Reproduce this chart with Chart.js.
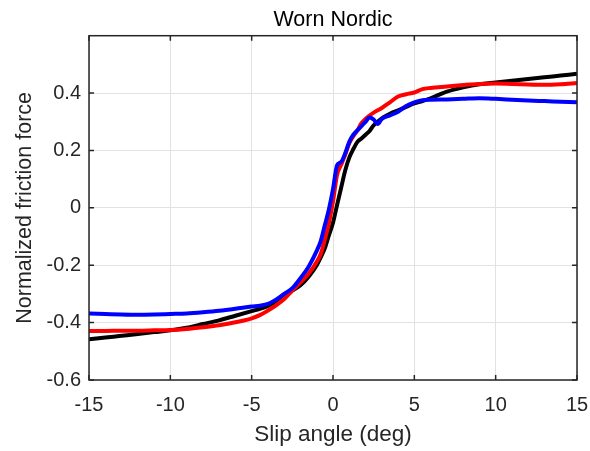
<!DOCTYPE html>
<html>
<head>
<meta charset="utf-8">
<script src="https://cdn.jsdelivr.net/npm/chart.js@4.4.1/dist/chart.umd.min.js"></script>
<style>
    html, body { margin: 0; padding: 0; background: #fff; }
    #wrap { width: 590px; height: 451px; }
</style>
</head>
<body>
<div id="wrap"><canvas id="frictionChart" width="590" height="451"></canvas></div>
<script>
// Slip angle samples (deg)
const slipAngle = [-15, -14, -13, -12, -11, -10, -9, -8, -7, -6, -5, -4.5, -4, -3.5, -3, -2.5, -2, -1.5, -1, -0.75, -0.5, -0.25,
    0, 0.25, 0.5, 0.75, 1, 1.25, 1.5, 1.75, 2, 2.25, 2.5, 2.75, 3, 3.5, 4, 4.5, 5, 5.5, 6, 7, 8, 9, 10, 11, 12, 13, 14, 15];

const blackForce = [-0.458, -0.452, -0.446, -0.440, -0.433, -0.427, -0.418, -0.405, -0.392, -0.376, -0.360, -0.352, -0.342, -0.325, -0.302, -0.288, -0.270, -0.240, -0.200, -0.172, -0.140, -0.095,
    -0.052, 0.010, 0.070, 0.130, 0.175, 0.205, 0.230, 0.242, 0.255, 0.268, 0.288, 0.300, 0.312, 0.328, 0.340, 0.352, 0.364, 0.372, 0.382, 0.405, 0.420, 0.431, 0.437, 0.443, 0.449, 0.455, 0.461, 0.467];

const redForce = [-0.429, -0.429, -0.428, -0.428, -0.427, -0.426, -0.422, -0.416, -0.409, -0.399, -0.385, -0.374, -0.358, -0.340, -0.318, -0.288, -0.260, -0.230, -0.188, -0.160, -0.110, -0.053,
    0.022, 0.115, 0.150, 0.185, 0.225, 0.250, 0.270, 0.295, 0.310, 0.322, 0.332, 0.340, 0.348, 0.368, 0.388, 0.396, 0.402, 0.414, 0.418, 0.423, 0.428, 0.432, 0.433, 0.432, 0.430, 0.429, 0.431, 0.435];

const blueForce = [-0.368, -0.370, -0.372, -0.373, -0.372, -0.370, -0.368, -0.364, -0.359, -0.352, -0.344, -0.341, -0.335, -0.320, -0.300, -0.280, -0.245, -0.205, -0.150, -0.115, -0.060, -0.005,
    0.065, 0.148, 0.160, 0.190, 0.230, 0.255, 0.270, 0.285, 0.300, 0.315, 0.308, 0.292, 0.310, 0.322, 0.335, 0.355, 0.368, 0.375, 0.377, 0.378, 0.380, 0.382, 0.380, 0.377, 0.374, 0.372, 0.370, 0.368];

const xTicks = [-15, -10, -5, 0, 5, 10, 15];
const yTicks = [-0.6, -0.4, -0.2, 0, 0.2, 0.4];

const FONT = 'Liberation Sans, Arial, Helvetica, sans-serif';
const AXIS_COLOR = '#262626';

function toPoints(ys) {
    return slipAngle.map((x, i) => ({ x: x, y: ys[i] }));
}

// MATLAB-style box with inward ticks
const boxPlugin = {
    id: 'box',
    afterDatasetsDraw(chart) {
        const { ctx, chartArea: a, scales } = chart;
        const len = 5;
        ctx.save();
        ctx.strokeStyle = AXIS_COLOR;
        ctx.lineWidth = 1.5;
        ctx.beginPath();
        scales.x.ticks.forEach(t => {
            const px = scales.x.getPixelForValue(t.value);
            ctx.moveTo(px, a.bottom); ctx.lineTo(px, a.bottom - len);
            ctx.moveTo(px, a.top); ctx.lineTo(px, a.top + len);
        });
        scales.y.ticks.forEach(t => {
            const py = scales.y.getPixelForValue(t.value);
            ctx.moveTo(a.left, py); ctx.lineTo(a.left + len, py);
            ctx.moveTo(a.right, py); ctx.lineTo(a.right - len, py);
        });
        ctx.stroke();
        ctx.strokeRect(a.left, a.top, a.right - a.left, a.bottom - a.top);
        ctx.restore();
    }
};

const ctx = document.getElementById('frictionChart').getContext('2d');

new Chart(ctx, {
    type: 'line',
    data: {
        datasets: [
            { label: 'Blue', data: toPoints(blueForce), borderColor: '#0000ff' },
            { label: 'Red', data: toPoints(redForce), borderColor: '#ff0000' },
            { label: 'Black', data: toPoints(blackForce), borderColor: '#000000' }
        ]
    },
    options: {
        responsive: false,
        animation: false,
        devicePixelRatio: 1,
        layout: { padding: { left: 0, right: 13, top: 0, bottom: 0 } },
        elements: {
            line: { borderWidth: 4, cubicInterpolationMode: 'monotone', fill: false },
            point: { radius: 0 }
        },
        plugins: {
            legend: { display: false },
            tooltip: { enabled: false }
        },
        scales: {
            x: {
                type: 'linear',
                min: -15,
                max: 15,
                afterFit(scale) {
                    scale.height = 71;
                    scale.paddingLeft = 0;
                    scale.paddingRight = 0;
                },
                afterBuildTicks(scale) { scale.ticks = xTicks.map(v => ({ value: v })); },
                grid: { color: '#e2e2e2', lineWidth: 1, drawTicks: false },
                border: { display: false },
                ticks: {
                    color: AXIS_COLOR,
                    padding: 13,
                    maxRotation: 0,
                    font: { family: FONT, size: 20 },
                    callback: v => String(v)
                },
                title: {
                    display: true,
                    text: 'Slip angle (deg)',
                    color: AXIS_COLOR,
                    font: { family: FONT, size: 22.5 },
                    padding: { top: 0, bottom: 3 }
                }
            },
            // top axis only carries the title so it centres over the plot box
            top: {
                type: 'linear',
                position: 'top',
                min: -15,
                max: 15,
                afterFit(scale) {
                    scale.height = 35.7;
                    scale.paddingLeft = 0;
                    scale.paddingRight = 0;
                },
                grid: { display: false, drawTicks: false },
                border: { display: false },
                ticks: { display: false },
                title: {
                    display: true,
                    text: 'Worn Nordic',
                    color: '#000',
                    font: { family: FONT, size: 21.5 },
                    padding: { top: 7.6, bottom: 0 }
                }
            },
            y: {
                type: 'linear',
                min: -0.6,
                max: 0.6,
                afterFit(scale) {
                    scale.width = 89;
                    scale.paddingTop = 0;
                    scale.paddingBottom = 0;
                },
                afterBuildTicks(scale) { scale.ticks = yTicks.map(v => ({ value: v })); },
                grid: { color: '#e2e2e2', lineWidth: 1, drawTicks: false },
                border: { display: false },
                ticks: {
                    color: AXIS_COLOR,
                    padding: 8,
                    font: { family: FONT, size: 20 },
                    callback: v => String(Math.round(v * 10) / 10)
                },
                title: {
                    display: true,
                    text: 'Normalized friction force',
                    color: AXIS_COLOR,
                    font: { family: FONT, size: 21.5 },
                    padding: { top: 12, bottom: 0 }
                }
            }
        }
    },
    plugins: [boxPlugin]
});
</script>
</body>
</html>
